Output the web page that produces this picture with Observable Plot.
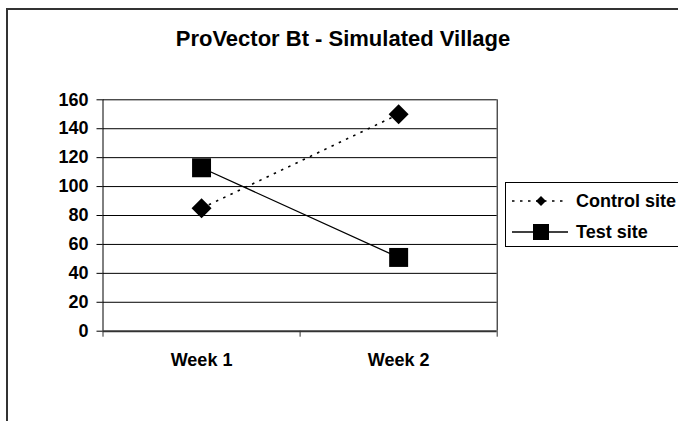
<!DOCTYPE html>
<html>
<head>
<meta charset="utf-8">
<script src="https://cdn.jsdelivr.net/npm/d3@7"></script>
<script src="https://cdn.jsdelivr.net/npm/@observablehq/plot@0.6"></script>
<style>
  html, body { margin: 0; padding: 0; background: #fff; overflow: hidden; }
  #wrap { position: relative; width: 678px; height: 421px; overflow: hidden; background: #fff;
          font-family: "Liberation Sans", Arial, sans-serif; color: #000; }
  #border { position: absolute; left: 6px; top: 8px; width: 720px; height: 460px;
            border: 2px solid #333; box-sizing: border-box; }
  #title { position: absolute; left: 0; top: 28px; width: 686px; text-align: center;
           font-size: 22px; font-weight: bold; line-height: 1; white-space: nowrap; }
  #chart { position: absolute; left: 0; top: 0; }
  #legend { position: absolute; left: 505px; top: 182px; width: 200px; height: 65px;
            border: 1px solid #000; box-sizing: border-box; background: #fff; }
  .item { position: absolute; left: 6px; height: 20px; display: flex; align-items: center;
          font-size: 18px; font-weight: bold; white-space: nowrap; }
  .item svg { display: block; margin-right: 8px; }
</style>
</head>
<body>
<div id="wrap">
  <div id="border"></div>
  <div id="chart"></div>
  <div id="title">ProVector Bt - Simulated Village</div>
  <div id="legend"></div>
</div>
<script>
const weeks = ["Week 1", "Week 2"];
const controlSite = [85, 150];
const testSite = [113, 51];
const yTicks = [0, 20, 40, 60, 80, 100, 120, 140, 160];
const seriesNames = ["Control site", "Test site"];

const xPos = (d, i) => i + 0.5;

const chart = Plot.plot({
  width: 678,
  height: 421,
  marginLeft: 102.5,
  marginRight: 181.3,
  marginTop: 99.3,
  marginBottom: 90.3,
  style: { fontFamily: "'Liberation Sans', Arial, sans-serif", fontSize: "18px", fontWeight: "bold", color: "#000", background: "transparent" },
  x: { type: "linear", domain: [0, 2] },
  y: { domain: [0, 160] },
  marks: [
    Plot.ruleY(yTicks.filter(t => t > 0), { stroke: "#000", strokeWidth: 1 }),
    Plot.ruleX([0, 2], { stroke: "#000", strokeWidth: 1 }),
    Plot.ruleY([0], { stroke: "#333", strokeWidth: 2 }),
    Plot.axisY({ ticks: yTicks, tickSize: 6, tickPadding: 8.5, label: null, fontSize: 18, fontWeight: "bold", stroke: "#000" }),
    Plot.axisX({ ticks: [0, 1, 2], tickSize: 6, tickFormat: () => "", label: null, stroke: "#333" }),
    Plot.axisX({ ticks: [0.5, 1.5], tickSize: 0, tickPadding: 22, tickFormat: t => weeks[Math.floor(t)], label: null, fontSize: 18, fontWeight: "bold" }),
    Plot.line(weeks, { x: xPos, y: (d, i) => controlSite[i], stroke: "#000", strokeWidth: 1.6, strokeDasharray: "2.5,5.5", strokeLinecap: "butt" }),
    Plot.line(weeks, { x: xPos, y: (d, i) => testSite[i], stroke: "#000", strokeWidth: 1.3 }),
    Plot.dot(weeks, { x: xPos, y: (d, i) => controlSite[i], symbol: "diamond2", r: 9, fill: "#000", stroke: "none" }),
    Plot.dot(weeks, { x: xPos, y: (d, i) => testSite[i], symbol: "square", r: 10.7, fill: "#000", stroke: "none" })
  ]
});
document.getElementById("chart").appendChild(chart);

// legend
const legend = d3.select("#legend");
const rows = [
  { name: seriesNames[0], dash: "2.5,5.5", sw: 1.6, symbol: "diamond" },
  { name: seriesNames[1], dash: null, sw: 1.3, symbol: "square" }
];
rows.forEach((r, k) => {
  const item = legend.append("div").attr("class", "item").style("top", (k === 0 ? 8 : 39) + "px");
  const svg = item.append("svg").attr("width", 56).attr("height", 20);
  const line = svg.append("line").attr("x1", 0).attr("x2", 56).attr("y1", 10).attr("y2", 10)
    .attr("stroke", "#000").attr("stroke-width", r.sw);
  if (r.dash) line.attr("stroke-dasharray", r.dash);
  if (r.symbol === "diamond") {
    svg.append("path").attr("d", "M29,5L34,10L29,15L24,10Z").attr("fill", "#000");
  } else {
    svg.append("rect").attr("x", 21).attr("y", 2).attr("width", 16).attr("height", 16).attr("fill", "#000");
  }
  item.append("span").text(r.name);
});
</script>
</body>
</html>
